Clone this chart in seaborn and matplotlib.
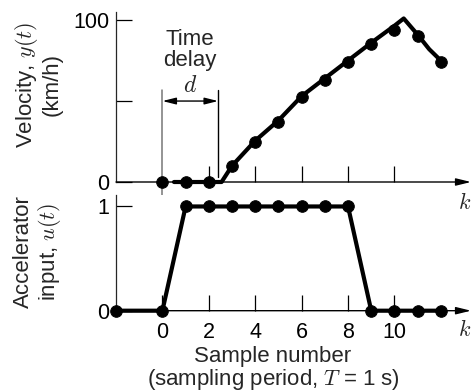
import matplotlib
matplotlib.use('Agg')
import matplotlib.pyplot as plt
import seaborn as sns
import numpy as np

# sampled data
k_samples = [0, 1, 2, 3, 4, 5, 6, 7, 8, 9, 10, 11, 12]
y_samples = [0, 0, 0, 10, 24.5, 37, 52.5, 63, 74, 85, 94, 90, 74]

# continuous velocity response
k_line = [0.5, 2.55, 3, 4, 5, 6, 7, 8, 9, 10, 10.4, 11, 11.5, 12]
y_line = [0, 0, 10, 25.5, 38, 53, 64, 75, 86, 96.5, 101, 91, 82, 75]

# accelerator input
k_input = [-2, 0, 1, 2, 3, 4, 5, 6, 7, 8, 9, 10, 11, 12]
u_input = [0, 0, 1, 1, 1, 1, 1, 1, 1, 1, 0, 0, 0, 0]

delay_start = 0
delay_end = 2.4

x_ticks = [0, 2, 4, 6, 8, 10]
x_ticks_top = [2, 4, 6, 8, 10]

sns.set_style('ticks')
plt.rcParams['font.family'] = ['Liberation Sans', 'DejaVu Sans']
plt.rcParams['mathtext.fontset'] = 'cm'
fs = 16

fig = plt.figure(figsize=(4.72, 3.92), dpi=100)
ax1 = fig.add_axes([116 / 472, 210 / 392, 355 / 472, 170 / 392])
ax2 = fig.add_axes([116 / 472, 81.3 / 392, 355 / 472, 115.7 / 392])

for ax in (ax1, ax2):
    ax.set_xlim(-2, 13.3)
    sns.despine(ax=ax)
    ax.spines['bottom'].set_visible(False)
    ax.spines['left'].set_linewidth(0.9)
    ax.set_facecolor('white')
    ax.annotate('', xy=(1.0, 0), xytext=(0, 0),
                xycoords=('axes fraction', 'data'), textcoords=('axes fraction', 'data'),
                arrowprops=dict(arrowstyle='-|>,head_length=0.9,head_width=0.22',
                                lw=1.0, color='black', shrinkA=0, shrinkB=0))
    ax.tick_params(axis='both', direction='in', length=11.5, width=0.9, colors='black',
                   labelsize=fs - 0.5, pad=5)

# top panel
ax1.set_ylim(0, 105)
sns.lineplot(x=k_line, y=y_line, ax=ax1, color='black', lw=3, sort=False,
             estimator=None, clip_on=False)
sns.scatterplot(x=k_samples, y=y_samples, ax=ax1, color='black', s=70,
                edgecolor='black', zorder=5, clip_on=False)
ax1.set_xticks(x_ticks_top)
ax1.tick_params(axis='x', labelbottom=False)
ax1.set_yticks([0, 50, 100])
ax1.set_yticklabels(['0', '', '100'])

# time delay annotation
ax1.plot([delay_start, delay_start], [57, -61], color='#777777', lw=1.1, clip_on=False, zorder=1)
ax1.plot([delay_end, delay_end], [57, 3], color='black', lw=1.0, zorder=1)
ax1.annotate('', xy=(delay_end, 50), xytext=(delay_start, 50),
             arrowprops=dict(arrowstyle='<|-|>,head_length=0.8,head_width=0.2',
                             lw=1.0, color='black', shrinkA=0, shrinkB=0))
ax1.text((delay_start + delay_end) / 2, 81.5, 'Time\ndelay', ha='center', va='center',
         fontsize=fs, linespacing=1.05)
ax1.text((delay_start + delay_end) / 2, 59, '$d$', ha='center', va='center', fontsize=fs + 1)

# bottom panel
ax2.set_ylim(0, 1.11)
sns.lineplot(x=k_input, y=u_input, ax=ax2, color='black', lw=3, sort=False,
             estimator=None, clip_on=False)
sns.scatterplot(x=k_input, y=u_input, ax=ax2, color='black', s=70,
                edgecolor='black', zorder=5, clip_on=False)
ax2.set_xticks(x_ticks)
ax2.set_xticklabels([str(t) for t in x_ticks])
ax2.tick_params(axis='x', pad=8)
ax2.set_yticks([0, 1])
ax2.set_yticklabels(['0', '1'])

# labels
fig.text(38 / 472, 1 - 85 / 392, 'Velocity, $y(t)$\n(km/h)', rotation=90, ha='center',
         va='center', fontsize=fs, linespacing=1.1)
fig.text(38 / 472, 1 - 252 / 392, 'Accelerator\ninput, $u(t)$', rotation=90, ha='center',
         va='center', fontsize=fs, linespacing=1.1)
fig.text(273 / 472, 1 - 369 / 392, 'Sample number\n(sampling period, $T$ = 1 s)',
         ha='center', va='center', fontsize=fs, linespacing=1.0)
fig.text(465 / 472, 1 - 203 / 392, '$k$', ha='center', va='center', fontsize=fs)
fig.text(465 / 472, 1 - 330 / 392, '$k$', ha='center', va='center', fontsize=fs)

fig.savefig('out.png', dpi=100)
